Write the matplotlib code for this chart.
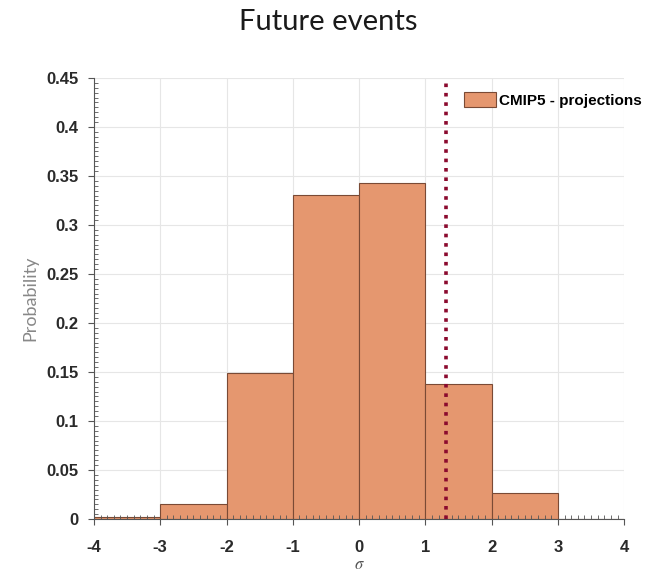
import numpy as np
import matplotlib
matplotlib.use("Agg")
import matplotlib.pyplot as plt
from matplotlib.ticker import MultipleLocator

plt.rcParams["axes.unicode_minus"] = False
plt.rcParams["mathtext.fontset"] = "stix"

# histogram of CMIP5 projections (bin edges in sigma, probability per bin)
bin_edges = [-4, -3, -2, -1, 0, 1, 2, 3, 4]
probs = [0.002, 0.015, 0.149, 0.331, 0.343, 0.138, 0.027, 0.0]
obs_sigma = 1.31

fig = plt.figure(figsize=(6.57, 5.77), dpi=100)
ax = fig.add_axes([0.143, 0.1005, 0.807, 0.7645])

# grid drawn by hand so the ticks can sit on top of the bars
for gx in np.arange(-4, 5, 1):
    ax.axvline(gx, color="#e6e6e6", linewidth=0.8, zorder=0)
for gy in np.arange(0, 0.451, 0.05):
    ax.axhline(gy, color="#e6e6e6", linewidth=0.8, zorder=0)

edges = np.array(bin_edges)
ax.bar(edges[:-1], probs, width=np.diff(edges), align="edge",
       color="#E5976F", edgecolor="#7a4a35", linewidth=0.8,
       label="CMIP5 - projections", zorder=1)
ax.axvline(obs_sigma, color="#8B0A2E", linestyle=(0, (1, 1.6)),
           linewidth=2.6, zorder=3)

ax.set_xlim(-4, 4)
ax.set_ylim(0, 0.45)
ax.set_xticks(np.arange(-4, 5, 1))
ax.set_yticks(np.arange(0, 0.451, 0.05))
ax.set_yticklabels(["0", "0.05", "0.1", "0.15", "0.2", "0.25", "0.3",
                    "0.35", "0.4", "0.45"])
ax.xaxis.set_minor_locator(MultipleLocator(0.1))
ax.yaxis.set_minor_locator(MultipleLocator(0.005))
ax.tick_params(which="major", direction="out", length=4, width=0.8,
               color="#555555", labelsize=12, labelcolor="#2a2a2a", pad=7)
ax.tick_params(axis="x", which="major", pad=11)
ax.tick_params(which="minor", direction="in", length=3, width=0.6,
               color="#555555")
for lab in ax.get_xticklabels() + ax.get_yticklabels():
    lab.set_fontweight("bold")
    lab.set_family("Liberation Sans")

for s in ["top", "right"]:
    ax.spines[s].set_visible(False)
for s in ["left", "bottom"]:
    ax.spines[s].set_color("#555555")
    ax.spines[s].set_linewidth(0.8)
    ax.spines[s].set_zorder(4)

ax.set_ylabel("Probability", color="#888888", fontsize=13, family="Lato",
              labelpad=6)
ax.set_xlabel(r"$\sigma$", color="#555555", fontsize=12, labelpad=0)

leg = ax.legend(loc="upper right", bbox_to_anchor=(1.06, 1.0), frameon=False,
                prop={"family": "Liberation Sans", "weight": "bold",
                      "size": 11},
                handlelength=2.1, handleheight=1.2, handletextpad=0.2)

fig.text(0.5, 0.962, "Future events", ha="center", va="center",
         fontsize=21, family="Lato", color="#1a1a1a")

fig.savefig("out.png", dpi=100)
